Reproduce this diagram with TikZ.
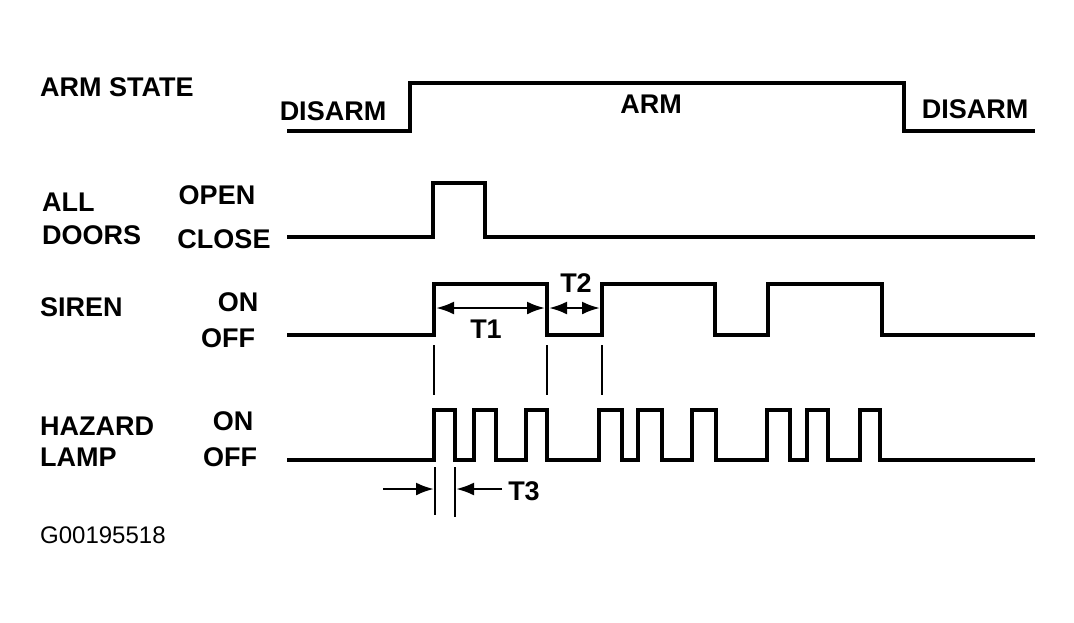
\documentclass[tikz,border=0pt]{standalone}
\usepackage{fontspec}
\setmainfont{Liberation Sans}
\usetikzlibrary{arrows.meta}
\tikzset{
  lbl/.style={font=\fontsize{27}{29}\selectfont\bfseries, inner sep=0pt, anchor=center},
  llbl/.style={lbl, anchor=west},
  wave/.style={line width=3.2pt, line join=miter},
  guide/.style={line width=1.8pt},
  dim/.style={line width=2.6pt, -{Latex[length=18pt,width=13pt]}},
}
\begin{document}
\begin{tikzpicture}[x=1pt,y=-1pt]
\useasboundingbox[fill=white] (0,0) rectangle (1074,622);

% labels
\node[llbl] (armstate) at (40,87) {ARM STATE};
\node[lbl] (disarmL) at (333,111) {DISARM};
\node[lbl] (arm) at (651,104) {ARM};
\node[lbl] (disarmR) at (975,109) {DISARM};
\node[llbl] (all) at (42,202) {ALL};
\node[llbl] (doors) at (42,235) {DOORS};
\node[lbl] (open) at (217,195) {OPEN};
\node[lbl] (close) at (224,239) {CLOSE};
\node[llbl] (siren) at (40,307) {SIREN};
\node[lbl] (son) at (238,302) {ON};
\node[lbl] (soff) at (228,338) {OFF};
\node[llbl] (hazard) at (40,426) {HAZARD};
\node[llbl] (lamp) at (40,457) {LAMP};
\node[lbl] (hon) at (233,421) {ON};
\node[lbl] (hoff) at (230,457) {OFF};
\node[lbl] (t1) at (486,329) {T1};
\node[lbl] (t2) at (576,283) {T2};
\node[lbl] (t3) at (524,491) {T3};
\node[font=\fontsize{24}{26}\selectfont, inner sep=0pt, anchor=west] (code) at (40,535) {G00195518};

% waveforms
\draw[wave] (287,131) -- (410,131) -- (410,83) -- (904,83) -- (904,131) -- (1035,131);
\draw[wave] (287,237) -- (433,237) -- (433,183) -- (485,183) -- (485,237) -- (1035,237);
\draw[wave] (287,335) -- (434,335) -- (434,284) -- (547,284) -- (547,335) -- (602,335)
  -- (602,284) -- (715,284) -- (715,335) -- (768,335) -- (768,284) -- (882,284)
  -- (882,335) -- (1035,335);
\draw[wave] (287,460) -- (434,460)
  -- (434,410) -- (455,410) -- (455,460) -- (474,460)
  -- (474,410) -- (496,410) -- (496,460) -- (526,460)
  -- (526,410) -- (547,410) -- (547,460) -- (599,460)
  -- (599,410) -- (622,410) -- (622,460) -- (638,460)
  -- (638,410) -- (662,410) -- (662,460) -- (692,460)
  -- (692,410) -- (716,410) -- (716,460) -- (767,460)
  -- (767,410) -- (790,410) -- (790,460) -- (807,460)
  -- (807,410) -- (828,410) -- (828,460) -- (860,460)
  -- (860,410) -- (880,410) -- (880,460) -- (1035,460);

% guide lines
\coordinate (g1a) at (434,345); \coordinate (g1b) at (434,395);
\coordinate (g2a) at (547,345); \coordinate (g2b) at (547,395);
\coordinate (g3a) at (602,345); \coordinate (g3b) at (602,395);
\draw[guide] (g1a) -- (g1b);
\draw[guide] (g2a) -- (g2b);
\draw[guide] (g3a) -- (g3b);
\coordinate (h1a) at (435,467); \coordinate (h1b) at (435,515);
\coordinate (h2a) at (455,467); \coordinate (h2b) at (455,517);
\draw[guide] (h1a) -- (h1b);
\draw[guide] (h2a) -- (h2b);

% dimension arrows
\coordinate (a1) at (436,308); \coordinate (a2) at (545,308);
\coordinate (a3) at (549,308); \coordinate (a4) at (600,308);
\coordinate (am) at (490,308); \coordinate (an) at (575,308);
\draw[dim] (am) -- (a1);
\draw[dim] (am) -- (a2);
\draw[dim] (an) -- (a3);
\draw[dim] (an) -- (a4);
\coordinate (b1) at (383,489); \coordinate (b2) at (434,489);
\coordinate (b3) at (502,489); \coordinate (b4) at (456,489);
\draw[dim] (b1) -- (b2);
\draw[dim] (b3) -- (b4);
\end{tikzpicture}
\end{document}
